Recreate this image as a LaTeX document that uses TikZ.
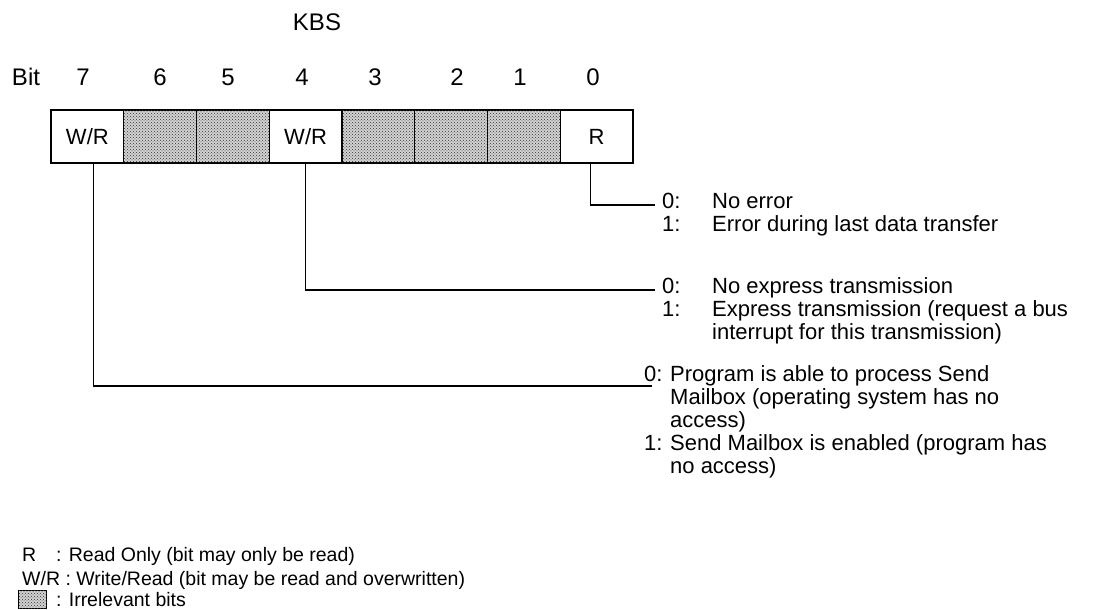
\documentclass[tikz,border=0pt]{standalone}
\usepackage{fontspec}
\setmainfont{Liberation Sans}
\usetikzlibrary{positioning,patterns}

\tikzset{
  dots/.style={fill=gray!35, postaction={pattern=crosshatch dots, pattern color=black!80}},
  bitcell/.style={draw, line width=1.4pt, minimum width=72.75pt, minimum height=53pt,
    inner sep=0pt, outer sep=0pt, font=\fontsize{22}{24}\selectfont},
  dotcell/.style={bitcell, dots},
  bitnum/.style={font=\fontsize{24}{26}\selectfont, anchor=base},
  lead/.style={line width=1.1pt},
  desc/.style={anchor=base west, inner sep=0pt, font=\fontsize{22}{23}\selectfont},
  legend/.style={anchor=base west, inner sep=0pt, font=\fontsize{19.5}{24}\selectfont}
}

\begin{document}
\begin{tikzpicture}[x=1pt, y=-1pt]
  \useasboundingbox (0,0) rectangle (1117,610);

  % register title and bit numbers
  \node[font=\fontsize{24}{26}\selectfont] (title) at (317,22) {KBS};
  \node[bitnum] (bitlbl) at (26,85) {Bit};
  \foreach \b/\x in {7/83, 6/160, 5/228, 4/302, 3/375, 2/457, 1/520, 0/593}
    \node[bitnum] (n\b) at (\x,85) {\b};

  % the eight cells of KBS
  \node[bitcell, anchor=north west] (c7) at (51,110) {W/R};
  \node[dotcell, right=0pt of c7] (c6) {};
  \node[dotcell, right=0pt of c6] (c5) {};
  \node[bitcell, right=0pt of c5] (c4) {W/R};
  \node[dotcell, right=0pt of c4] (c3) {};
  \node[dotcell, right=0pt of c3] (c2) {};
  \node[dotcell, right=0pt of c2] (c1) {};
  \node[bitcell, right=0pt of c1] (c0) {R};

  % bit 0
  \coordinate (e0) at (655,205);
  \draw[lead] ([xshift=-6pt]c0.south) |- (e0);
  \node[desc] (d0) at (662,208) {\begin{tabular}[t]{@{}p{50pt}@{}l@{}}
    0: & No error\\
    1: & Error during last data transfer
  \end{tabular}};

  % bit 4
  \coordinate (e4) at (655,290);
  \draw[lead] (c4.south) |- (e4);
  \node[desc] (d4) at (662,293) {\begin{tabular}[t]{@{}p{50pt}@{}l@{}}
    0: & No express transmission\\
    1: & Express transmission (request a bus\\
       & interrupt for this transmission)
  \end{tabular}};

  % bit 7
  \coordinate (e7) at (652,386);
  \draw[lead] ([xshift=6pt]c7.south) |- (e7);
  \node[desc] (d7) at (644,381) {\begin{tabular}[t]{@{}p{26pt}@{}l@{}}
    0: & Program is able to process Send\\
       & Mailbox (operating system has no\\
       & access)\\
    1: & Send Mailbox is enabled (program has\\
       & no access)
  \end{tabular}};

  % legend
  \node[legend] (lr) at (22,561) {R};
  \node[legend] (lrtxt) at (56,561) {: Read Only (bit may only be read)};
  \node[legend] (lwr) at (22,585) {W/R : Write/Read (bit may be read and overwritten)};
  \node[draw, line width=1pt, dots, minimum width=28pt, minimum height=18pt,
    inner sep=0pt, anchor=south west] (ldot) at (18,609) {};
  \node[legend] (ldtxt) at (56,606) {: Irrelevant bits};
\end{tikzpicture}
\end{document}
